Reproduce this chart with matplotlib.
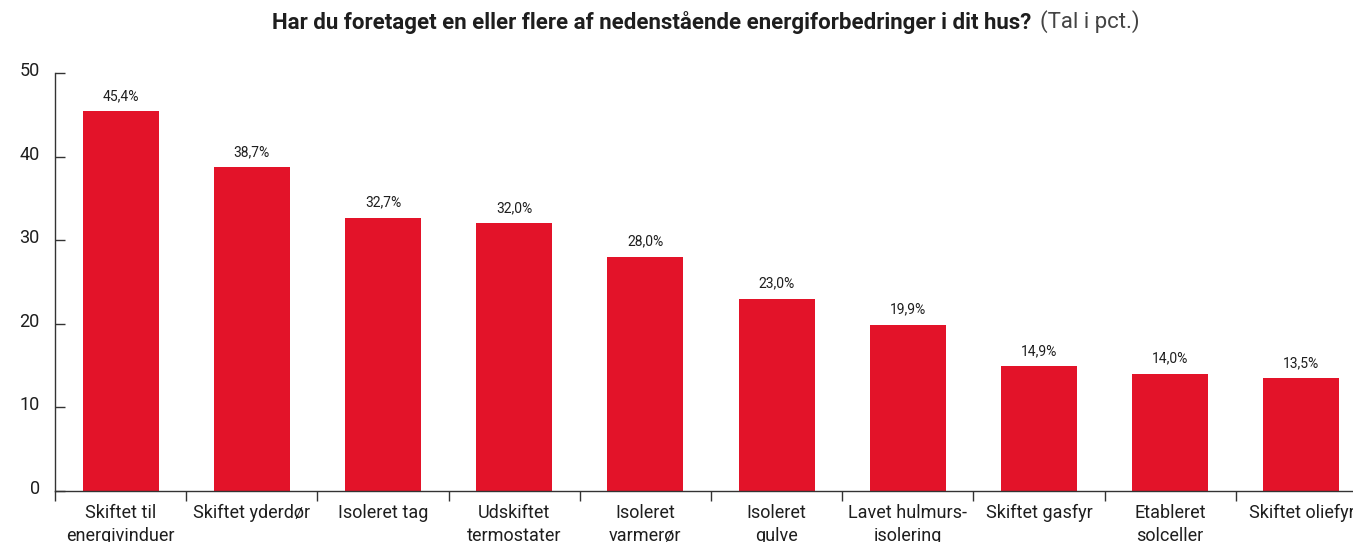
import matplotlib
matplotlib.use("Agg")
import matplotlib.pyplot as plt
from matplotlib.transforms import ScaledTranslation

# Survey answers, share of respondents in percent
categories = [
    "Skiftet til\nenergivinduer",
    "Skiftet yderdør",
    "Isoleret tag",
    "Udskiftet\ntermostater",
    "Isoleret\nvarmerør",
    "Isoleret\ngulve",
    "Lavet hulmurs-\nisolering",
    "Skiftet gasfyr",
    "Etableret\nsolceller",
    "Skiftet oliefyr",
]
values = [45.4, 38.7, 32.7, 32.0, 28.0, 23.0, 19.9, 14.9, 14.0, 13.5]
yticks = [0, 10, 20, 30, 40, 50]

RED = "#E31329"
TEXT = "#1e1e1e"
AXIS = "#333333"

plt.rcParams["font.family"] = ["Roboto", "DejaVu Sans"]

W, H = 1353, 542
fig = plt.figure(figsize=(W / 100, H / 100), dpi=100)

# plot area in pixels: x from 55 to 1367 (runs off the right edge), y from 73 to 491
left, right, top, bottom = 55, 1367, 73, 491
ax = fig.add_axes([left / W, (H - bottom) / H, (right - left) / W, (bottom - top) / H])

x = range(len(categories))
bars = ax.bar(x, values, width=0.58, color=RED, zorder=2)

for xi, v in zip(x, values):
    ax.annotate(f"{v:.1f}%".replace(".", ","), (xi, v), xytext=(0, 6),
                textcoords="offset points", ha="center", va="bottom",
                fontsize=10, color=TEXT)

ax.set_xlim(-0.5, len(categories) - 0.5)
ax.set_ylim(0, 50)
ax.set_yticks(yticks)
ax.set_yticklabels([str(t) for t in yticks])

# ticks between the categories on the x axis
ax.set_xticks([i - 0.5 for i in x], minor=False)
ax.set_xticklabels([])
ax.set_xticks(list(x), minor=True)
ax.set_xticklabels(categories, minor=True, fontsize=13, color=TEXT, linespacing=1.4)
ax.tick_params(axis="x", which="minor", length=0, pad=9)
ax.tick_params(axis="x", which="major", direction="out", length=7, width=1, color=AXIS)
ax.tick_params(axis="y", direction="in", length=7, width=1, color=AXIS,
               labelsize=13, labelcolor=TEXT, pad=11)

for lbl in ax.get_yticklabels():
    lbl.set_transform(lbl.get_transform() + ScaledTranslation(0, 4 / 100, fig.dpi_scale_trans))

for side in ["top", "right"]:
    ax.spines[side].set_visible(False)
for side in ["left", "bottom"]:
    ax.spines[side].set_color(AXIS)
    ax.spines[side].set_linewidth(1)

# two-part title, centred over the plot
fig.canvas.draw()
renderer = fig.canvas.get_renderer()
t1 = fig.text(0, 1 - 22 / H, "Har du foretaget en eller flere af nedenstående energiforbedringer i dit hus?",
              fontsize=16, fontweight="bold", color=TEXT, va="center", ha="left")
t2 = fig.text(0, 1 - 22 / H, "(Tal i pct.)", fontsize=16, color="#444444", va="center", ha="left")
w1 = t1.get_window_extent(renderer).width
w2 = t2.get_window_extent(renderer).width
gap = 9
start = 706 - (w1 + gap + w2) / 2
t1.set_x(start / W)
t2.set_x((start + w1 + gap) / W)

fig.savefig("out.png", dpi=100)
